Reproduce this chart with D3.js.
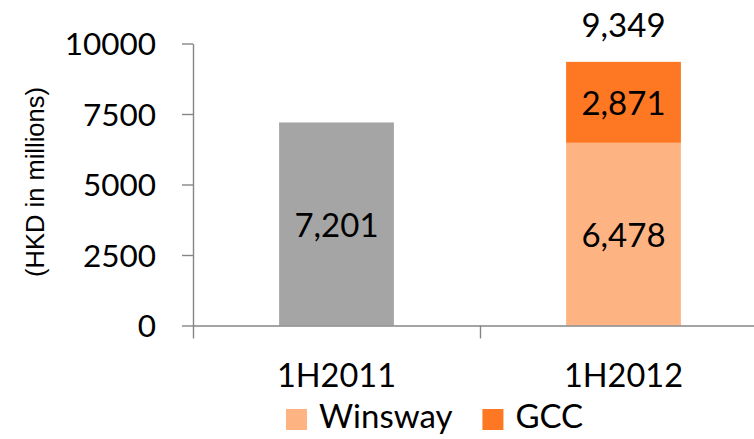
<!DOCTYPE html>
<html>
<head>
<meta charset="utf-8">
<script src="https://cdn.jsdelivr.net/npm/d3@7"></script>
<style>
  body { margin: 0; background: #fff; }
  svg text { font-family: Lato, "Open Sans", sans-serif; fill: #000; }
</style>
</head>
<body>
<svg id="chart" width="754" height="439"></svg>
<script>
// Revenue by half-year, HKD in millions
const categories = ["1H2011", "1H2012"];
const prior   = [7201, 0];     // single grey bar for 1H2011
const winsway = [0, 6478];
const gcc     = [0, 2871];
const yTicks  = [0, 2500, 5000, 7500, 10000];
const legendItems = ["Winsway", "GCC"];

const colors = { prior: "#A5A5A5", winsway: "#FEB482", gcc: "#FE7722" };
const axisColor = "#868686";

const rows = categories.map((c, i) => ({
  category: c, prior: prior[i], winsway: winsway[i], gcc: gcc[i]
}));
const keys = ["prior", "winsway", "gcc"];
const stacked = d3.stack().keys(keys)(rows);

const svg = d3.select("#chart");
const plotLeft = 193, plotTop = 43.5, plotBottom = 325.5, plotRight = 767;

const x = d3.scaleBand().domain(categories).range([plotLeft, plotRight])
  .paddingInner(0.6).paddingOuter(0.3);
const y = d3.scaleLinear().domain([0, 10000]).range([plotBottom, plotTop]);

// stacked bars
svg.append("g").selectAll("g").data(stacked).join("g")
  .attr("fill", d => colors[d.key])
  .selectAll("rect").data(d => d.filter(s => s[1] - s[0] > 0)).join("rect")
  .attr("x", d => x(d.data.category))
  .attr("width", x.bandwidth())
  .attr("y", d => y(d[1]))
  .attr("height", d => y(d[0]) - y(d[1]));

// segment value labels
const fmt = d3.format(",");
svg.append("g").selectAll("g").data(stacked).join("g")
  .selectAll("text").data(d => d.filter(s => s[1] - s[0] > 0)).join("text")
  .attr("x", d => x(d.data.category) + x.bandwidth() / 2)
  .attr("y", d => (y(d[0]) + y(d[1])) / 2)
  .attr("text-anchor", "middle")
  .attr("dominant-baseline", "central")
  .style("font-size", "33px")
  .text(d => fmt(d[1] - d[0]));

// total above the stacked bar
const stackedRows = rows.filter(r => r.winsway + r.gcc > 0);
svg.append("g").selectAll("text").data(stackedRows).join("text")
  .attr("x", d => x(d.category) + x.bandwidth() / 2)
  .attr("y", d => y(d.winsway + d.gcc) - 25)
  .attr("text-anchor", "middle")
  .style("font-size", "33px")
  .text(d => fmt(d.winsway + d.gcc));

// y axis
const yAxis = svg.append("g").attr("transform", `translate(${plotLeft},0)`)
  .call(d3.axisLeft(y).tickValues(yTicks).tickFormat(d3.format("d"))
    .tickSize(11).tickSizeOuter(0).tickPadding(26));
yAxis.selectAll("path, line").attr("stroke", axisColor).attr("stroke-width", 1.4);
yAxis.selectAll("text").style("font-size", "31.5px")
  .attr("font-family", "Lato").attr("dy", "0.36em");

// x axis with ticks on the category boundaries
const xb = d3.scaleLinear().domain([0, categories.length]).range([plotLeft, plotRight]);
const xAxis = svg.append("g").attr("transform", `translate(0,${plotBottom})`)
  .call(d3.axisBottom(xb).tickValues(d3.range(categories.length + 1))
    .tickFormat("").tickSize(13).tickSizeOuter(0));
xAxis.selectAll("path, line").attr("stroke", axisColor).attr("stroke-width", 1.4);

// category labels
svg.append("g").selectAll("text").data(categories).join("text")
  .attr("x", d => x(d) + x.bandwidth() / 2)
  .attr("y", 387)
  .attr("text-anchor", "middle")
  .style("font-size", "32.5px")
  .text(d => d);

// y axis title
svg.append("text")
  .attr("transform", `translate(44,182) rotate(-90)`)
  .attr("text-anchor", "middle")
  .style("font-family", "'Liberation Sans', Arial, sans-serif")
  .style("font-size", "25.5px")
  .text("(HKD in millions)");

// legend
const legend = svg.append("g").attr("transform", "translate(286,409)");
let lx = 0;
legendItems.forEach((name, i) => {
  const g = legend.append("g").attr("transform", `translate(${lx},0)`);
  g.append("rect").attr("width", 21).attr("height", 21)
    .attr("fill", i === 0 ? colors.winsway : colors.gcc);
  const t = g.append("text").attr("x", 33).attr("y", 18.5)
    .style("font-size", "33px").text(name);
  lx += 33 + t.node().getComputedTextLength() + 30;
});
</script>
</body>
</html>
